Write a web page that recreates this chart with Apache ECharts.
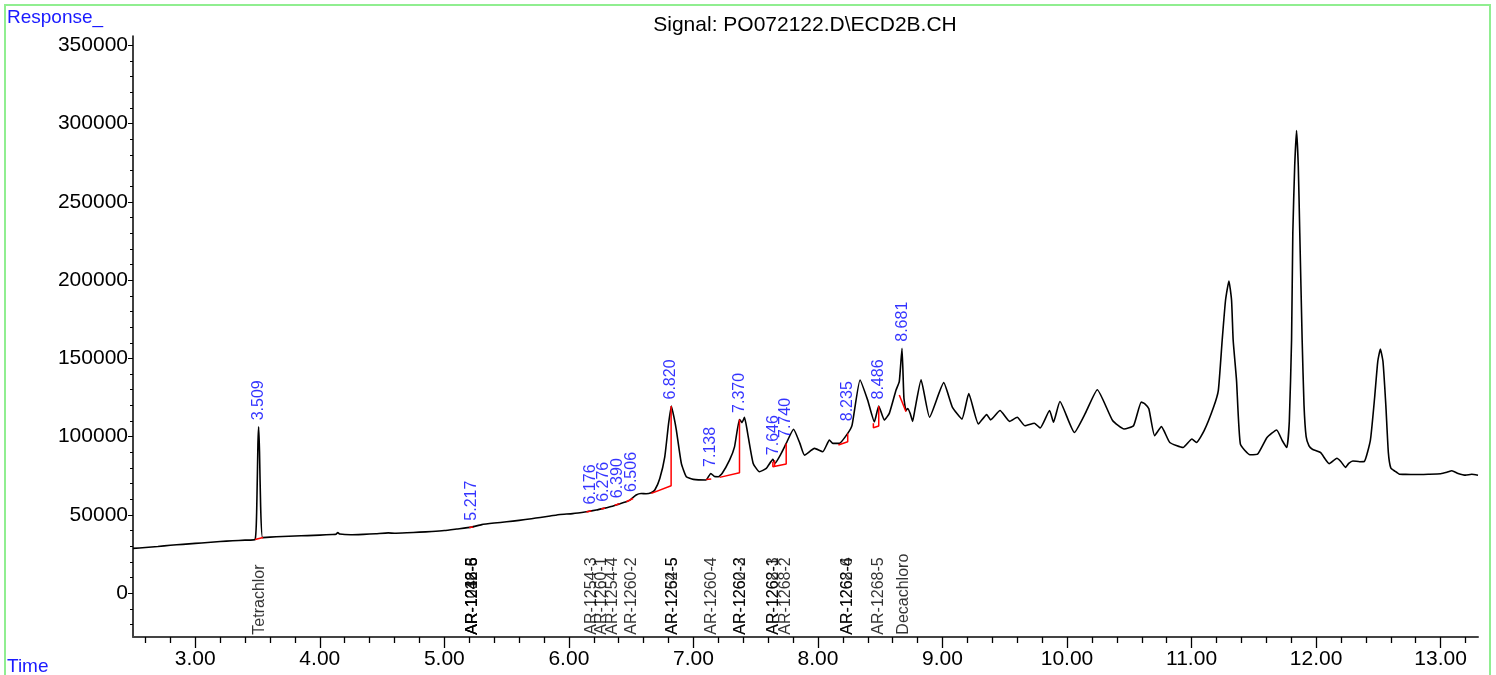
<!DOCTYPE html>
<html><head><meta charset="utf-8">
<script src="https://cdn.jsdelivr.net/npm/echarts@6/dist/echarts.min.js"></script>
<style>html,body{margin:0;padding:0;background:#fff}#c{width:1496px;height:675px}</style>
</head><body><div id="c"></div>
<script>
// ---- data ----
const traceTime = [2.50,2.60,2.70,2.80,2.90,3.00,3.10,3.20,3.30,3.40,3.48,3.495,3.503,3.509,3.516,3.525,3.54,3.60,3.70,3.80,3.90,4.00,4.10,4.13,4.145,4.16,4.25,4.35,4.45,4.55,4.60,4.70,4.80,4.90,5.00,5.10,5.217,5.30,5.40,5.50,5.60,5.70,5.77,5.85,5.93,6.03,6.14,6.22,6.28,6.35,6.40,6.46,6.49,6.54,6.58,6.62,6.66,6.69,6.73,6.77,6.80,6.823,6.845,6.863,6.903,6.943,7.00,7.10,7.14,7.17,7.20,7.23,7.29,7.33,7.37,7.39,7.41,7.44,7.48,7.53,7.585,7.638,7.655,7.705,7.745,7.804,7.855,7.892,7.972,8.039,8.092,8.12,8.172,8.239,8.274,8.338,8.399,8.453,8.488,8.533,8.573,8.627,8.653,8.675,8.69,8.707,8.72,8.74,8.76,8.78,8.828,8.896,9.01,9.079,9.156,9.211,9.288,9.355,9.386,9.462,9.539,9.600,9.661,9.738,9.784,9.860,9.891,9.943,10.059,10.151,10.243,10.366,10.458,10.534,10.596,10.625,10.657,10.703,10.758,10.825,10.932,11.003,11.039,11.101,11.177,11.215,11.246,11.273,11.30,11.321,11.334,11.361,11.392,11.469,11.530,11.606,11.683,11.729,11.765,11.785,11.803,11.813,11.828,11.843,11.857,11.869,11.888,11.903,11.92,11.943,11.97,12.035,12.105,12.167,12.20,12.236,12.262,12.295,12.35,12.387,12.436,12.47,12.495,12.516,12.537,12.56,12.58,12.60,12.632,12.67,12.72,12.80,12.90,13.00,13.05,13.09,13.14,13.20,13.25,13.30];
const traceResponse = [28600,29200,29800,30600,31200,31800,32400,33000,33500,33900,34300,60000,95000,106300,90000,55000,35500,35800,36200,36500,36800,37100,37500,37700,38700,37800,37300,37600,38000,38500,38300,38600,39000,39400,40000,41000,42200,43800,44800,45600,46500,47600,48400,49300,50300,50800,52000,53100,54200,55600,56900,58400,59500,62700,63700,63500,64100,65900,73300,87100,108000,119600,112000,104200,82900,74400,72700,72300,76500,74500,74400,76500,85000,93500,111000,109000,112300,100000,82900,77600,79700,85500,83000,89300,95700,104700,95700,88200,92500,90400,97800,95700,95700,102100,107400,136200,123400,109500,119600,110600,114900,129800,135100,156500,125000,116700,118000,115000,109800,118000,136300,112400,134500,118900,111300,127500,108100,114100,110700,116700,109800,112400,107000,108600,105500,116700,109200,122500,102700,115600,130000,110300,104900,107000,122100,121000,117800,100600,106400,96300,93100,98500,96300,103800,118900,129600,161800,187300,199500,187300,161800,136000,95200,88400,88800,99500,104300,97400,93100,110000,161800,230000,272600,295600,272600,230000,161800,120000,100000,94100,92000,89900,82800,86200,84000,80400,82900,84500,84000,84100,97800,125000,148000,156000,148000,120000,90000,80000,78000,76000,75900,75800,76000,76300,77200,78200,76500,75400,76000,75400];

// integration baselines / drop lines (red), each a list of [time, response]
const baselineSegments = [
  [[3.480,34300],[3.545,35600]],
  [[5.200,41900],[5.230,42300]],
  [[6.141,51900],[6.181,52600]],
  [[6.260,53800],[6.290,54400]],
  [[6.368,56200],[6.408,57200]],
  [[6.462,58400],[6.515,60500]],
  [[6.662,63750],[6.821,68600],[6.821,119600]],
  [[7.103,72700],[7.143,73000]],
  [[7.210,73980],[7.370,76900],[7.370,111000]],
  [[7.638,84000],[7.638,80760],[7.745,82480],[7.745,95700]],
  [[7.652,80900],[7.652,85000]],
  [[8.164,94630],[8.239,96740],[8.239,102100]],
  [[8.445,108500],[8.445,105700],[8.488,106800],[8.488,119600]],
  [[8.653,126600],[8.707,115900]]
];

// peak retention-time labels (blue)
const peakTimes = [3.509,5.217,6.176,6.276,6.390,6.506,6.820,7.138,7.370,7.646,7.740,8.235,8.486,8.681];
const peakLabelResponse = [106300,42200,52500,54200,56500,60500,119600,76500,111000,84000,95000,105700,119600,156500];

// compound names (black, vertical, along the time axis)
const compoundTimes = [3.516,5.229,5.229,5.229,5.229,6.181,6.261,6.354,6.507,6.833,6.833,7.149,7.376,7.376,7.643,7.643,7.737,8.234,8.234,8.485,8.686];
const compoundNames = ['Tetrachlor','AR-1016-5','AR-1232-6','AR-1242-8','AR-1248-5','AR-1254-3','AR-1260-1','AR-1254-4','AR-1260-2','AR-1254-5','AR-1262-5','AR-1260-4','AR-1260-3','AR-1262-2','AR-1262-3','AR-1268-1','AR-1268-2','AR-1262-4','AR-1268-6','AR-1268-5','Decachloro'];

// axis tick values
const xTickLabels = [3,4,5,6,7,8,9,10,11,12,13];
const yTickLabels = [0,50000,100000,150000,200000,250000,300000,350000];
const xMinorTicks = [];
for (let k = 13; k <= 66; k++) { if (k % 5 !== 0) xMinorTicks.push(+(k * 0.2).toFixed(1)); }
const yMinorTicks = [];
for (let k = -2; k <= 35; k++) { if (k % 5 !== 0) yMinorTicks.push(k * 10000); }

// ---- chart ----
const FONT = '"Liberation Sans", Arial, sans-serif';
const X_MIN = 2.5, X_MAX = 13.3, Y_MIN = -28000, Y_MAX = 356000;
const LABEL_BASE = -26500;

const chart = echarts.init(document.getElementById('c'), null, {renderer: 'canvas'});

const series = [];
series.push({
  type: 'line', xAxisIndex: 0, yAxisIndex: 0,
  data: traceTime.map((t, i) => [t, traceResponse[i]]),
  symbol: 'none', smooth: 0.15,
  lineStyle: {color: '#000', width: 1.6, join: 'round'}, z: 3, silent: true
});
baselineSegments.forEach(seg => series.push({
  type: 'line', xAxisIndex: 0, yAxisIndex: 0, data: seg, symbol: 'none',
  lineStyle: {color: '#ff0000', width: 1.5}, z: 4, silent: true
}));
series.push({
  type: 'scatter', xAxisIndex: 0, yAxisIndex: 0,
  data: peakTimes.map((t, i) => ({value: [t, peakLabelResponse[i]], name: t.toFixed(3)})),
  symbol: 'circle', symbolSize: 1, itemStyle: {color: 'rgba(0,0,0,0)'}, z: 5, silent: true,
  label: {show: true, position: 'top', distance: 6, rotate: 90, align: 'left', verticalAlign: 'middle',
    formatter: p => p.name, color: '#0000ff', fontSize: 16, fontFamily: FONT}
});
series.push({
  type: 'scatter', xAxisIndex: 0, yAxisIndex: 0,
  data: compoundTimes.map((t, i) => ({value: [t, LABEL_BASE], name: compoundNames[i]})),
  symbol: 'circle', symbolSize: 1, itemStyle: {color: 'rgba(0,0,0,0)'}, z: 5, silent: true,
  label: {show: true, position: 'inside', rotate: 90, align: 'left', verticalAlign: 'middle',
    formatter: p => p.name, color: '#000', fontSize: 16, fontFamily: FONT}
});

chart.setOption({
  animation: false,
  backgroundColor: '#fff',
  grid: {left: 133, right: 18, top: 36, bottom: 38, containLabel: false},
  xAxis: [
    {type: 'value', min: X_MIN, max: X_MAX, position: 'bottom',
     axisLine: {show: true, onZero: false, lineStyle: {color: '#444', width: 2}},
     axisTick: {show: true, customValues: xTickLabels, length: 11, lineStyle: {color: '#000', width: 1.3}},
     axisLabel: {show: true, customValues: xTickLabels, formatter: v => Number(v).toFixed(2),
       margin: 12, color: '#000', fontSize: 21, fontFamily: FONT},
     splitLine: {show: false}},
    {type: 'value', min: X_MIN, max: X_MAX, position: 'bottom',
     axisLine: {show: false, onZero: false},
     axisTick: {show: true, customValues: xMinorTicks, length: 6, lineStyle: {color: '#000', width: 1.3}},
     axisLabel: {show: false}, splitLine: {show: false}}
  ],
  yAxis: [
    {type: 'value', min: Y_MIN, max: Y_MAX, position: 'left',
     axisLine: {show: true, onZero: false, lineStyle: {color: '#000', width: 1.5}},
     axisTick: {show: true, customValues: yTickLabels, length: 5, lineStyle: {color: '#000', width: 1}},
     axisLabel: {show: true, customValues: yTickLabels, formatter: v => String(v),
       margin: 5, color: '#000', fontSize: 21, fontFamily: FONT},
     splitLine: {show: false}},
    {type: 'value', min: Y_MIN, max: Y_MAX, position: 'left',
     axisLine: {show: false, onZero: false},
     axisTick: {show: true, customValues: yMinorTicks, length: 3, lineStyle: {color: '#000', width: 1}},
     axisLabel: {show: false}, splitLine: {show: false}}
  ],
  graphic: [
    {type: 'rect', shape: {x: 5, y: 5, width: 1485, height: 720}, style: {fill: 'none', stroke: '#90ee90', lineWidth: 2}, silent: true, z: -1},
    {type: 'text', x: 7, y: 18, style: {text: 'Response_', fill: '#1a1aff', font: '19px ' + FONT, textVerticalAlign: 'middle'}},
    {type: 'text', x: 7, y: 667, style: {text: 'Time', fill: '#1a1aff', font: '19px ' + FONT, textVerticalAlign: 'middle'}},
    {type: 'text', x: 805, y: 25, style: {text: 'Signal: PO072122.D\\ECD2B.CH', fill: '#000', font: '21px ' + FONT, textAlign: 'center', textVerticalAlign: 'middle'}}
  ],
  series: series
});
</script>
</body></html>
